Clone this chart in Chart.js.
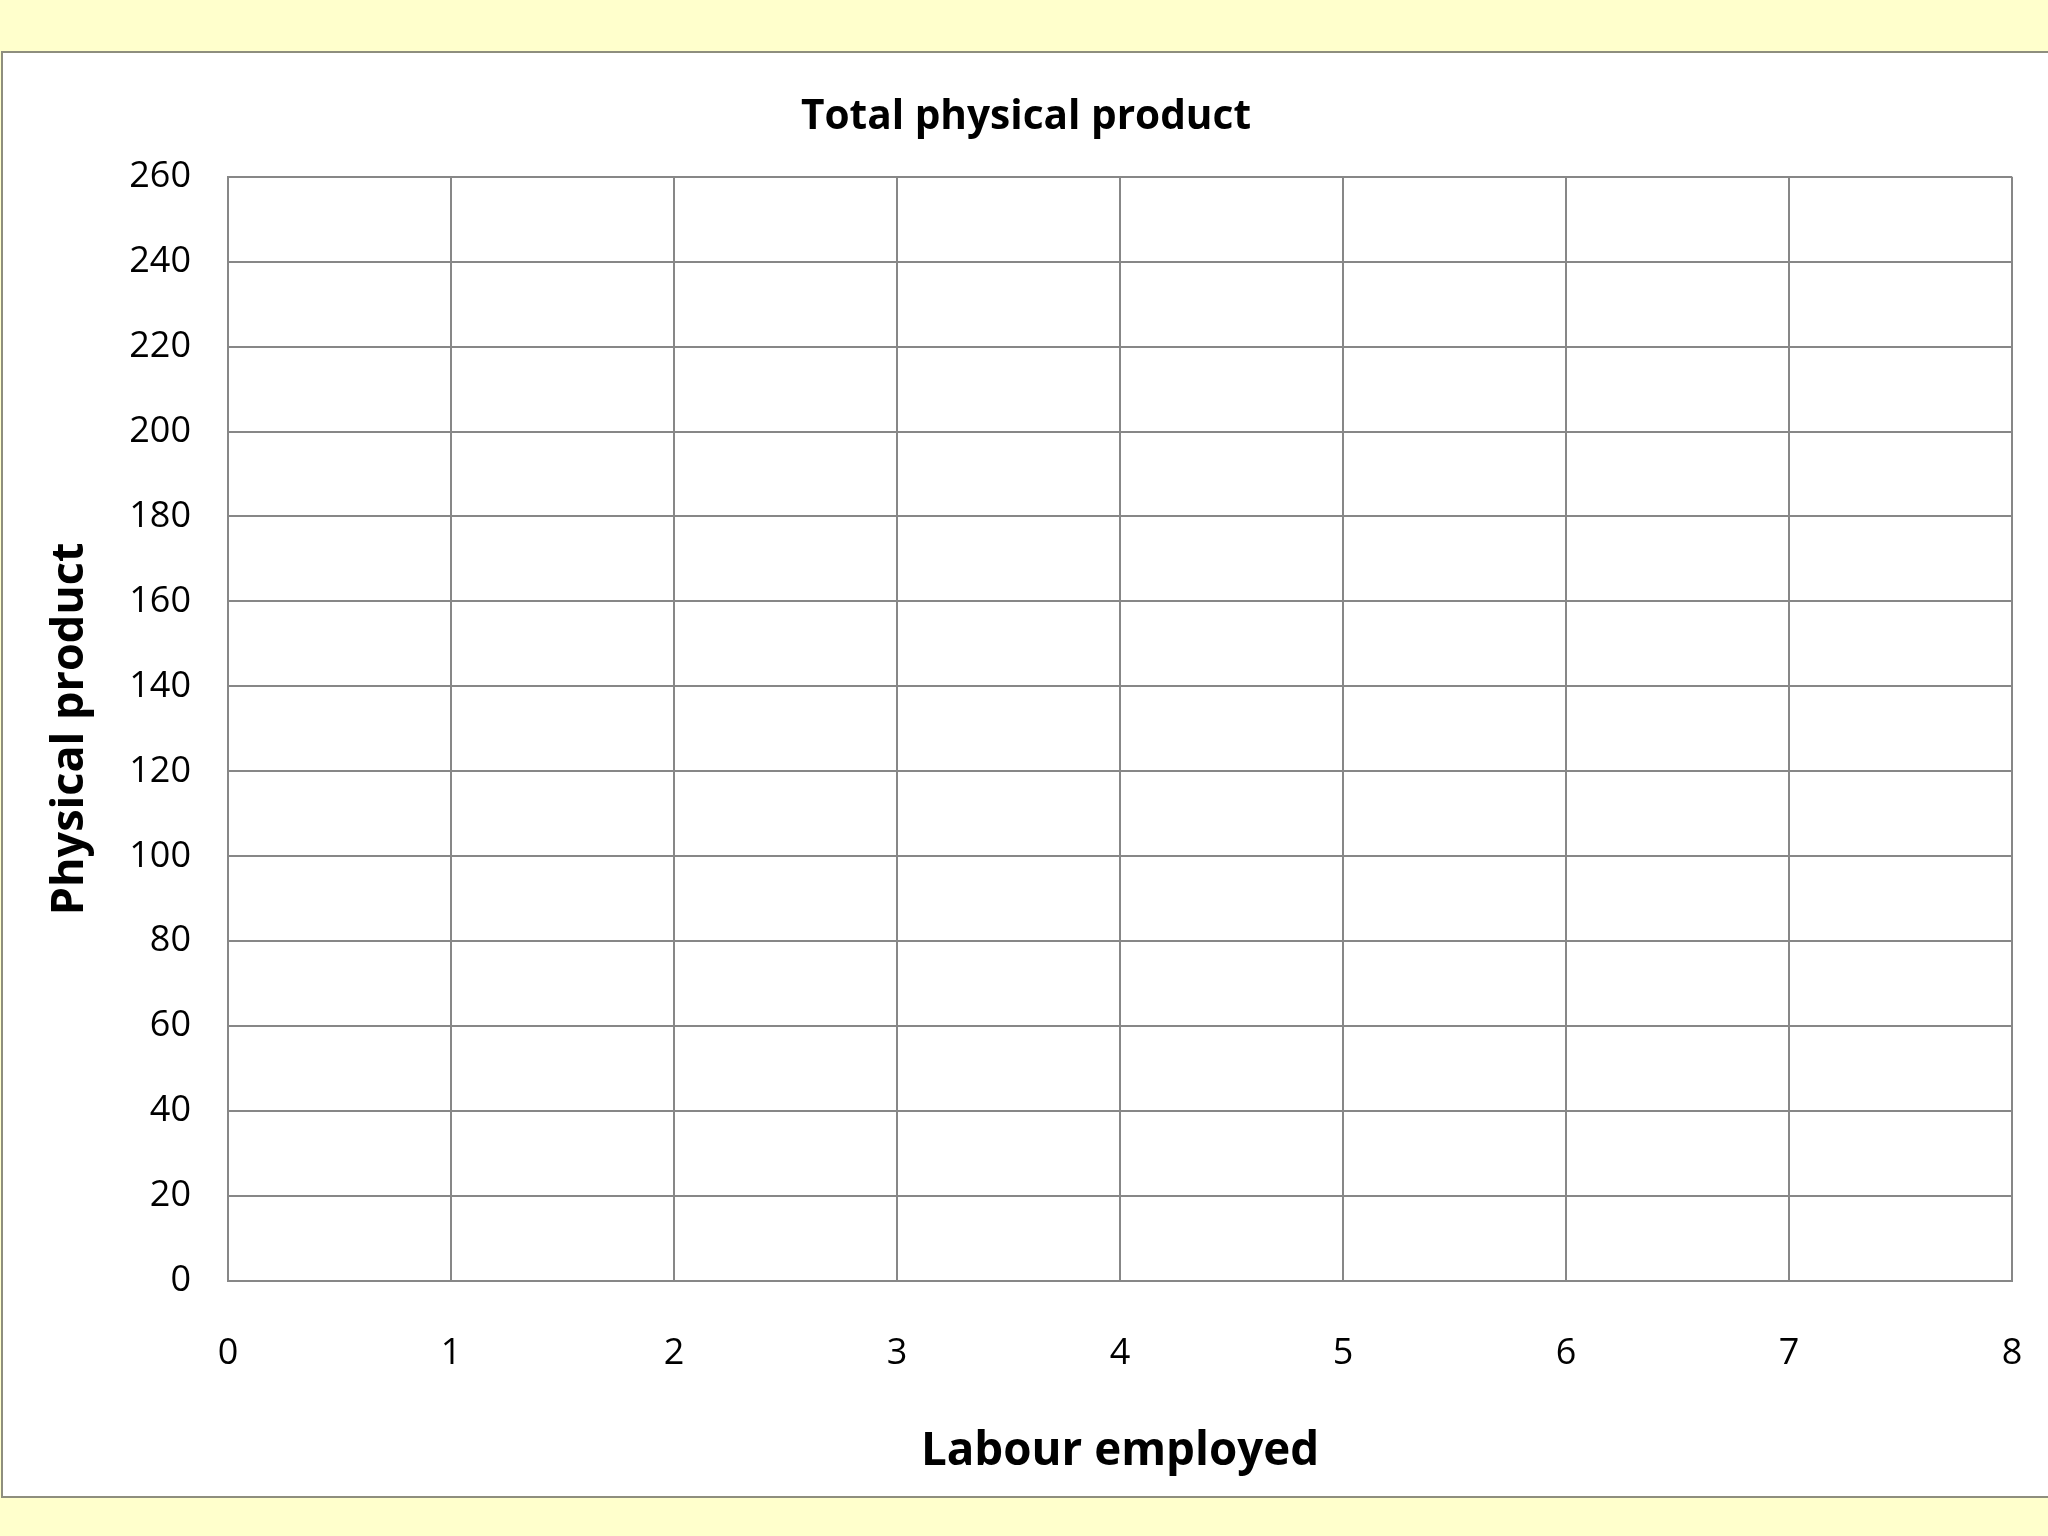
<!DOCTYPE html>
<html>
<head>
<meta charset="utf-8">
<script src="https://cdn.jsdelivr.net/npm/chart.js@4"></script>
<style>
  html, body { margin: 0; padding: 0; width: 2048px; height: 1536px; overflow: hidden; background: #ffffcc; }
  #frame { position: absolute; left: 1px; top: 51px; width: 2200px; height: 1443px; background: #fff; border: 2px solid #8e8e7e; }
  #tppChart { position: absolute; left: 4px; top: 53px; }
</style>
</head>
<body>
<div id="frame"></div>
<canvas id="tppChart" width="2048" height="1443"></canvas>
<script>
// axis ticks
const labourTicks = [0, 1, 2, 3, 4, 5, 6, 7, 8];
const productTicks = [0, 20, 40, 60, 80, 100, 120, 140, 160, 180, 200, 220, 240, 260];

// the sheet is a blank grid: no points plotted yet
const labour = [];
const product = [];

const gridGrey = '#878787';

Chart.defaults.font.family = "'Open Sans', sans-serif";
Chart.defaults.color = '#000';

const ctx = document.getElementById('tppChart').getContext('2d');

new Chart(ctx, {
    type: 'scatter',
    data: {
        datasets: [{
            label: 'Total physical product',
            data: labour.map((x, i) => ({ x: x, y: product[i] })),
            borderColor: '#1f4e9c',
            backgroundColor: '#1f4e9c',
            showLine: true
        }]
    },
    options: {
        responsive: false,
        animation: false,
        layout: { padding: { left: 36, right: 40, top: 0, bottom: 0 } },
        plugins: {
            legend: { display: false },
            tooltip: { enabled: false },
            title: {
                display: true,
                text: 'Total physical product',
                font: { size: 40.6, weight: 'bold' },
                padding: { top: 40, bottom: 35 }
            }
        },
        scales: {
            x: {
                type: 'linear',
                min: labourTicks[0],
                max: labourTicks[labourTicks.length - 1],
                afterBuildTicks: s => { s.ticks = labourTicks.map(v => ({ value: v })); },
                afterFit: s => { s.height = 215; },
                // invisible tick marks push the labels down without widening the side padding
                grid: { color: gridGrey, lineWidth: 2, drawTicks: true, tickLength: 48, tickColor: 'rgba(0,0,0,0)' },
                border: { color: gridGrey, width: 2 },
                ticks: { font: { size: 36 }, padding: 3, maxRotation: 0 },
                title: {
                    display: true,
                    text: 'Labour employed',
                    font: { size: 45.7, weight: 'bold' },
                    padding: { top: 0, bottom: 17 }
                }
            },
            y: {
                type: 'linear',
                min: productTicks[0],
                max: productTicks[productTicks.length - 1],
                afterBuildTicks: s => { s.ticks = productTicks.map(v => ({ value: v })); },
                afterFit: s => { s.width = 188; },
                grid: { color: gridGrey, lineWidth: 2, drawTicks: false },
                border: { color: gridGrey, width: 2 },
                ticks: { font: { size: 36 }, padding: 37 },
                title: {
                    display: true,
                    text: 'Physical product',
                    font: { size: 45, weight: 'bold' },
                    padding: { top: 3, bottom: 0 }
                }
            }
        }
    }
});
</script>
</body>
</html>
